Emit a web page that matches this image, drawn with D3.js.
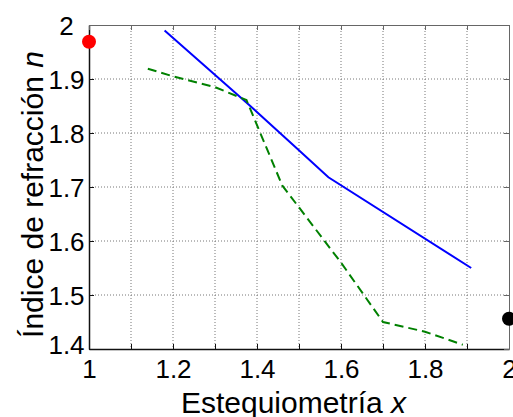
<!DOCTYPE html>
<html>
<head>
<meta charset="utf-8">
<script src="https://cdn.jsdelivr.net/npm/d3@7"></script>
<style>
  body { margin: 0; background: #fff; }
  text { font-family: "Liberation Sans", Arial, sans-serif; fill: #000; }
</style>
</head>
<body>
<div id="chart"></div>
<script>
// Data
const blueX = [1.18, 1.38, 1.49, 1.57, 1.91];
const blueN = [1.99, 1.853, 1.775, 1.718, 1.55];

const greenX = [1.14, 1.2, 1.3, 1.375, 1.46, 1.6, 1.7, 1.8, 1.89];
const greenN = [1.919, 1.905, 1.885, 1.861, 1.703, 1.56, 1.45, 1.432, 1.408];

const dotX = [1, 2];
const dotN = [1.969, 1.456];
const dotColors = ["#ff0000", "#000000"];

const xGrid = [1, 1.1, 1.2, 1.3, 1.4, 1.5, 1.6, 1.7, 1.8, 1.9, 2];
const xTickLabels = ["1", "1.2", "1.4", "1.6", "1.8", "2"];
const yTicks = [1.4, 1.5, 1.6, 1.7, 1.8, 1.9, 2];
const yTickLabels = ["1.4", "1.5", "1.6", "1.7", "1.8", "1.9", "2"];

const W = 513, H = 417;
const margin = {top: 25, right: 4, bottom: 68, left: 89};
const width = W - margin.left - margin.right;
const height = H - margin.top - margin.bottom;

const svg = d3.select("#chart").append("svg")
    .attr("width", W)
    .attr("height", H);

const g = svg.append("g")
    .attr("transform", `translate(${margin.left},${margin.top})`);

const x = d3.scaleLinear().domain([1, 2]).range([0, width]);
const y = d3.scaleLinear().domain([1.4, 2]).range([height, 0]);

// Dotted grid
g.selectAll(".vgrid").data(xGrid.slice(1, -1)).enter().append("line")
    .attr("x1", d => x(d)).attr("x2", d => x(d))
    .attr("y1", 0).attr("y2", height)
    .attr("stroke", "#777").attr("stroke-width", 1)
    .attr("stroke-dasharray", "1,2");

g.selectAll(".hgrid").data(yTicks.slice(1, -1)).enter().append("line")
    .attr("x1", 0).attr("x2", width)
    .attr("y1", d => y(d)).attr("y2", d => y(d))
    .attr("stroke", "#777").attr("stroke-width", 1)
    .attr("stroke-dasharray", "1,2");

// Series
const line = d3.line().x(d => x(d[0])).y(d => y(d[1]));

g.append("path")
    .datum(blueX.map((v, i) => [v, blueN[i]]))
    .attr("d", line)
    .attr("fill", "none")
    .attr("stroke", "#0000ff")
    .attr("stroke-width", 2);

g.append("path")
    .datum(greenX.map((v, i) => [v, greenN[i]]))
    .attr("d", line)
    .attr("fill", "none")
    .attr("stroke", "#008000")
    .attr("stroke-width", 2)
    .attr("stroke-dasharray", "9,5");

// Axes (ticks point inwards)
const fmtX = d => {
    const k = xTickLabels.indexOf(d3.format("~g")(d));
    return k >= 0 ? xTickLabels[k] : "";
};

const xAxis = g.append("g")
    .attr("transform", `translate(0,${height})`)
    .call(d3.axisBottom(x).tickValues(xGrid).tickFormat(fmtX)
        .tickSizeInner(-5).tickSizeOuter(0).tickPadding(11));
xAxis.select(".domain").attr("stroke", "#111").attr("stroke-width", 1.5);
xAxis.selectAll(".tick line").attr("stroke", "#111");
xAxis.selectAll("text").style("font-size", "26px");

const yAxis = g.append("g")
    .call(d3.axisLeft(y).tickValues(yTicks).tickFormat((d, i) => yTickLabels[i])
        .tickSizeInner(-5).tickSizeOuter(0).tickPadding(0));
yAxis.select(".domain").attr("stroke", "#111").attr("stroke-width", 1.5);
yAxis.selectAll(".tick line").attr("stroke", "#111");
yAxis.selectAll("text")
    .style("font-size", "26px")
    .attr("text-anchor", "middle")
    .attr("x", -22.5)
    .attr("dy", (d, i) => i === 0 ? "0.17em" : "0.36em");

const topAxis = g.append("g")
    .call(d3.axisTop(x).tickValues(xGrid).tickFormat("")
        .tickSizeInner(-5).tickSizeOuter(0));
topAxis.select(".domain").attr("stroke", "#666");
topAxis.selectAll(".tick line").attr("stroke", "#666");

const rightAxis = g.append("g")
    .attr("transform", `translate(${width},0)`)
    .call(d3.axisRight(y).tickValues(yTicks).tickFormat("")
        .tickSizeInner(-5).tickSizeOuter(0));
rightAxis.select(".domain").attr("stroke", "#666");
rightAxis.selectAll(".tick line").attr("stroke", "#666");

// Reference points
g.selectAll(".dot").data(dotX).enter().append("circle")
    .attr("cx", d => x(d))
    .attr("cy", (d, i) => y(dotN[i]))
    .attr("r", 7)
    .attr("fill", (d, i) => dotColors[i]);

// Axis titles
const xt = svg.append("text")
    .attr("x", 293.5)
    .attr("y", 413)
    .attr("text-anchor", "middle")
    .style("font-size", "30px")
    .text("Estequiometría ");
xt.append("tspan").style("font-style", "italic").text("x");

const yt = svg.append("text")
    .attr("transform", "translate(43,194.5) rotate(-90)")
    .attr("text-anchor", "middle")
    .style("font-size", "30px")
    .text("Índice de refracción ");
yt.append("tspan").style("font-style", "italic").text("n");
</script>
</body>
</html>
